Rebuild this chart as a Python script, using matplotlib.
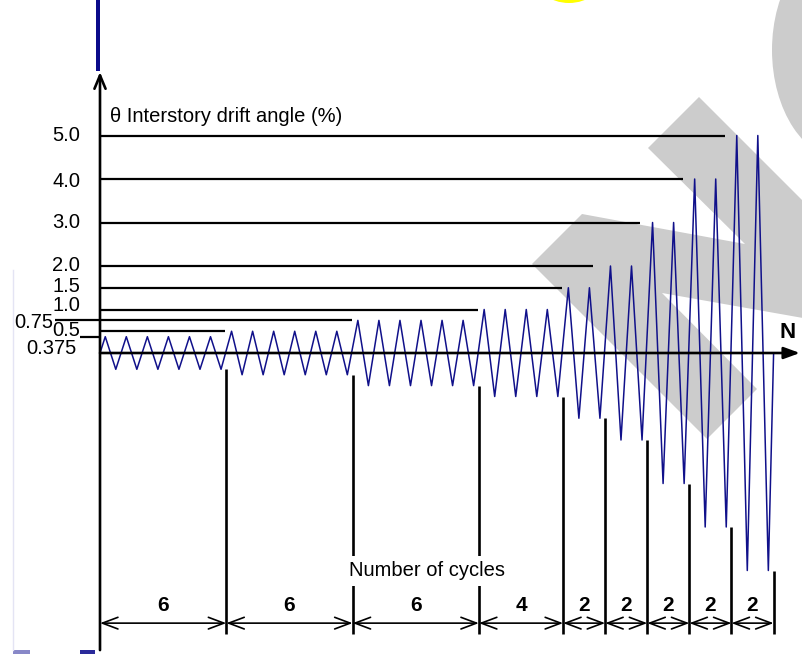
import matplotlib
matplotlib.use("Agg")
import matplotlib.pyplot as plt
from matplotlib.patches import Polygon, Ellipse, Rectangle

plt.rcParams['font.family'] = ['Liberation Sans', 'DejaVu Sans']

# loading protocol: drift amplitude (%) and number of cycles at each step
levels = [0.375, 0.5, 0.75, 1.0, 1.5, 2.0, 3.0, 4.0, 5.0]
n_cycles = [6, 6, 6, 4, 2, 2, 2, 2, 2]
tick_labels = ['0.375', '0.5', '0.75', '1.0', '1.5', '2.0', '3.0', '4.0', '5.0']
# where each guide line from the y axis starts / stops (in cycles)
guide_start = [-0.95, 0, -2.14, 0, 0, 0, 0, 0, 0]
guide_end = [0, 5.94, 11.97, 17.96, 21.95, 23.4, 25.65, 27.7, 29.7]

# layout (pixels of the 803x654 picture)
W, H = 803, 654
X0, Y0 = 100, 353
PX_CYC, PX_PCT = 21.05, 43.5
lab_y = [0.10, 0.51, 0.69, 1.10, 1.54, 2.02, 3.01, 3.95, 4.99]
lab_x = [-1.14, -0.95, -2.23, -0.95, -0.95, -0.95, -0.95, -0.95, -0.95]

NAVY = '#10108a'
FS = 14.5


def decorations(bg):
    # leftover watermark bits around the figure
    bg.add_patch(Polygon([(699, 97), (803, 201), (803, 318), (662, 293),
                          (757, 389), (707, 439), (532, 264), (582, 214),
                          (745, 244), (648, 148)], closed=True,
                         facecolor='#cccccc', edgecolor='none'))
    bg.add_patch(Ellipse((845, 50), 146, 220, facecolor='#cccccc', edgecolor='none'))
    bg.add_patch(Ellipse((569, -25), 70, 56, facecolor='#ffff00', edgecolor='none'))
    bg.add_patch(Rectangle((96, 0), 4, 71, facecolor='#0a0a8a', edgecolor='none'))
    bg.add_patch(Rectangle((80, 650), 15, 4, facecolor='#2a2a9a', edgecolor='none'))
    bg.add_patch(Rectangle((13, 650), 17, 4, facecolor='#8888c8', edgecolor='none'))
    bg.plot([13, 13], [270, 650], color='#e4e4f4', lw=1)


fig = plt.figure(figsize=(W / 100, H / 100), dpi=100)
bg = fig.add_axes([0, 0, 1, 1])
bg.set_xlim(0, W)
bg.set_ylim(H, 0)
bg.axis('off')
decorations(bg)

ax = fig.add_axes([0, 0, 1, 1])
ax.patch.set_alpha(0)
ax.axis('off')
ax.set_xlim(-X0 / PX_CYC, (W - X0) / PX_CYC)
ax.set_ylim(-(H - Y0) / PX_PCT, Y0 / PX_PCT)

# triangular drift history
xs, ys = [0], [0]
start = 0
for a, n in zip(levels, n_cycles):
    for k in range(n):
        xs += [start + k + 0.25, start + k + 0.75]
        ys += [a, -a]
    start += n
xs.append(start)
ys.append(0)
ax.plot(xs, ys, color=NAVY, lw=1.1, zorder=3)

# guide lines and level labels
for a, s, e, lab, lx, ly in zip(levels, guide_start, guide_end, tick_labels, lab_x, lab_y):
    ax.plot([s, e], [a, a], color='black', lw=1.6, solid_capstyle='butt', zorder=2)
    ax.text(lx, ly, lab, ha='right', va='center', fontsize=FS)

# axes with arrows
ax.annotate('', xy=(0, 6.46), xytext=(0, -6.83), zorder=4,
            arrowprops=dict(arrowstyle='->,head_length=0.6,head_width=0.25', lw=1.9,
                            color='black', shrinkA=0, shrinkB=0, mutation_scale=16))
ax.annotate('', xy=(33.25, 0), xytext=(0, 0), zorder=4,
            arrowprops=dict(arrowstyle='-|>,head_length=0.6,head_width=0.22', lw=1.9,
                            color='black', shrinkA=0, shrinkB=0, mutation_scale=16))
ax.text(0.47, 5.43, '\u03b8 Interstory drift angle (%)', ha='left', va='center', fontsize=FS)
ax.text(32.68, 0.46, 'N', ha='center', va='center', fontsize=16, fontweight='bold')

# step boundaries and cycle counts
edges = [0]
for n in n_cycles:
    edges.append(edges[-1] + n)
for i in range(1, len(edges)):
    ax.plot([edges[i], edges[i]], [-levels[i - 1], -6.45], color='black', lw=1.9,
            solid_capstyle='butt', zorder=2)
dim = dict(arrowstyle='<->,head_length=0.8,head_width=0.3', lw=1.2,
           color='black', shrinkA=0, shrinkB=0, mutation_scale=14)
for i, n in enumerate(n_cycles):
    ax.annotate('', xy=(edges[i + 1], -6.21), xytext=(edges[i], -6.21), arrowprops=dim)
    ax.text((edges[i] + edges[i + 1]) / 2, -5.80, str(n), ha='center', va='center',
            fontsize=15, fontweight='bold')
ax.text(15.53, -5.01, 'Number of cycles', ha='center', va='center', fontsize=FS,
        zorder=5, bbox=dict(facecolor='white', edgecolor='none', pad=4))

fig.savefig('out.png', dpi=100)
